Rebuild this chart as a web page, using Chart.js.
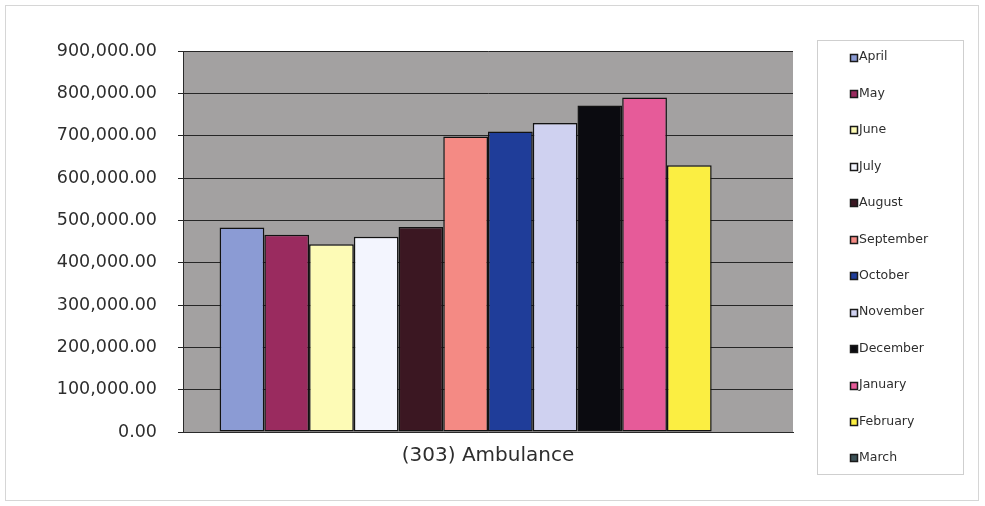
<!DOCTYPE html>
<html>
<head>
<meta charset="utf-8">
<title>(303) Ambulance</title>
<script src="https://cdn.jsdelivr.net/npm/chart.js@4"></script>
<style>
  html, body { margin: 0; padding: 0; background: #ffffff; }
  #wrap { width: 985px; height: 506px; position: relative; }
</style>
</head>
<body>
<div id="wrap"><canvas id="chart"></canvas></div>
<script>
// Monthly totals for cost centre (303) Ambulance
const categories = ['(303) Ambulance'];
const months = ['April', 'May', 'June', 'July', 'August', 'September',
                'October', 'November', 'December', 'January', 'February', 'March'];
const amounts = [483000, 466000, 443500, 461000, 484000, 698000,
                 710000, 730000, 771000, 790000, 630000, 0];
const monthColors = ['#8b9bd4', '#9a2b5f', '#fdfbb6', '#f3f5fe', '#3b1722', '#f48a84',
                     '#1f3d99', '#cfd1f0', '#0b0b10', '#e65b99', '#fbee42', '#3d5257'];
const yTickValues = [0, 100000, 200000, 300000, 400000, 500000, 600000, 700000, 800000, 900000];

const TEXT = '#2e2e2e';
Chart.defaults.font.family = "'DejaVu Sans', sans-serif";
Chart.defaults.color = TEXT;

const fmt = v => Number(v).toLocaleString('en-US', { minimumFractionDigits: 2, maximumFractionDigits: 2 });

// grey plot background behind the grid
const plotBackground = {
  id: 'plotBackground',
  beforeDraw(chart) {
    const { ctx, chartArea: a } = chart;
    ctx.save();
    ctx.fillStyle = '#a3a1a1';
    ctx.fillRect(a.left, a.top, a.right - a.left, a.bottom - a.top);
    ctx.restore();
  }
};

// chart frame and the boxed month key on the right
const frameAndKey = {
  id: 'frameAndKey',
  afterDraw(chart) {
    const { ctx } = chart;
    ctx.save();
    ctx.lineWidth = 1;
    ctx.strokeStyle = '#d6d6d6';
    ctx.strokeRect(5.5, 5.5, 973, 495);
    ctx.strokeStyle = '#cfcfcf';
    ctx.strokeRect(817.5, 40.5, 146, 434);

    const firstY = 57, step = 36.45, box = 7, boxX = 850.5, textX = 859;
    ctx.font = "12.5px 'DejaVu Sans', sans-serif";
    ctx.textBaseline = 'middle';
    ctx.textAlign = 'left';
    chart.data.datasets.forEach((ds, i) => {
      const y = firstY + i * step;
      ctx.fillStyle = ds.backgroundColor;
      ctx.fillRect(boxX, Math.round(y - box / 2) + 0.5, box, box);
      ctx.strokeStyle = '#1a1a1a';
      ctx.lineWidth = 1.5;
      ctx.strokeRect(boxX, Math.round(y - box / 2) + 0.5, box, box);
      ctx.fillStyle = TEXT;
      ctx.fillText(ds.label, textX, y);
    });
    ctx.restore();
  }
};

const datasets = months.map((m, i) => ({
  label: m,
  data: [amounts[i]],
  backgroundColor: monthColors[i],
  borderColor: '#121212',
  borderWidth: 1.5,
  borderSkipped: false,
  categoryPercentage: 0.88,
  barPercentage: 1.0
}));

new Chart(document.getElementById('chart'), {
  type: 'bar',
  data: { labels: categories, datasets },
  plugins: [plotBackground, frameAndKey],
  options: {
    responsive: true,
    maintainAspectRatio: false,
    animation: false,
    devicePixelRatio: 1,
    layout: { padding: { top: 51, right: 192, bottom: 0, left: 0 } },
    plugins: {
      legend: { display: false },
      tooltip: { enabled: false },
      title: { display: false }
    },
    scales: {
      x: {
        type: 'category',
        grid: { display: false, drawTicks: false },
        border: { display: true, color: '#2a2a2a', width: 1 },
        ticks: { font: { size: 20, lineHeight: 1.2 }, color: TEXT, padding: 12 },
        afterFit(scale) { scale.height = 74; }
      },
      y: {
        min: 0,
        max: 900000,
        afterBuildTicks(scale) { scale.ticks = yTickValues.map(v => ({ value: v })); },
        ticks: {
          font: { size: 17.5 },
          color: TEXT,
          padding: 21,
          callback: v => fmt(v)
        },
        grid: { color: '#262626', lineWidth: 1, drawTicks: true, tickLength: 5 },
        border: { display: true, color: '#2a2a2a', width: 1 },
        afterFit(scale) { scale.width = 183; }
      }
    }
  }
});
</script>
</body>
</html>
